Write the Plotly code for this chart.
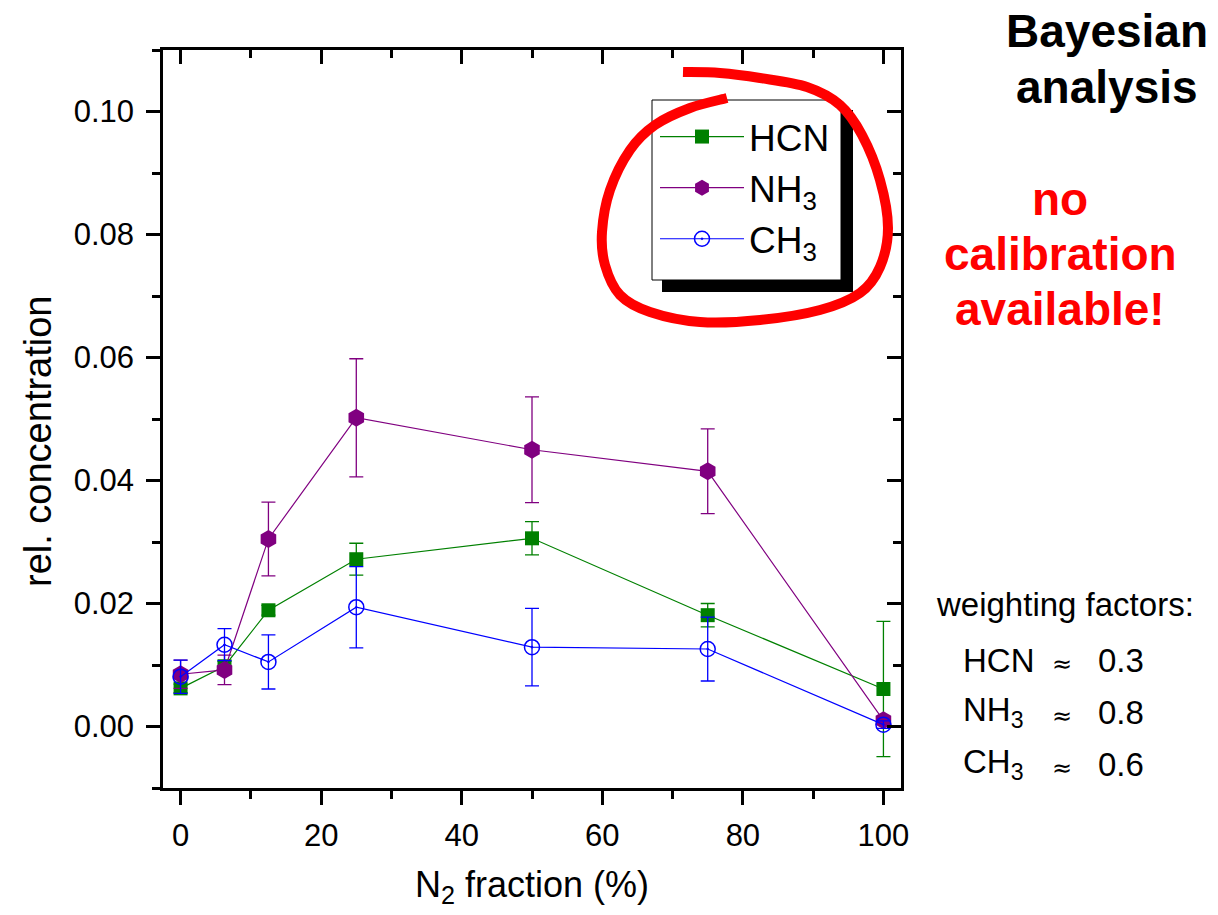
import plotly.graph_objects as go

# ---------------- data ----------------
n2_fraction = [0, 6.25, 12.5, 25, 50, 75, 100]

hcn = [0.0062, 0.0098, 0.0189, 0.0272, 0.0306, 0.0181, 0.0061]
hcn_err = [0.0007, 0.0008, 0.0008, 0.0026, 0.0027, 0.0019, 0.0110]

nh3 = [0.0085, 0.0092, 0.0305, 0.0502, 0.0450, 0.0415, 0.0010]
nh3_err = [0.0023, 0.0024, 0.0060, 0.0096, 0.0086, 0.0069, 0.0005]

ch3 = [0.0081, 0.0133, 0.0105, 0.0194, 0.0129, 0.0126, 0.0003]
ch3_err = [0.0027, 0.0026, 0.0044, 0.0066, 0.0063, 0.0052, 0.0006]

series_names = ["HCN", "NH<sub>3</sub>", "CH<sub>3</sub>"]
weight_labels = ["HCN", "NH<sub>3</sub>", "CH<sub>3</sub>"]
weight_values = ["0.3", "0.8", "0.6"]

x_ticks = [0, 20, 40, 60, 80, 100]
y_ticks = [0.00, 0.02, 0.04, 0.06, 0.08, 0.10]

# ---------------- layout geometry ----------------
W, H = 1218, 915
ML, MR, MT, MB = 163, 317, 50, 127
PW, PH = W - ML - MR, H - MT - MB
FONT = "Liberation Sans, Arial, Helvetica, sans-serif"

def px2x(px):
    return (px - ML) / PW

def py2y(py):
    return (H - MB - py) / PH

GREEN, PURPLE, BLUE = "#008000", "#800080", "#0000FF"


def series(name, y, err, color, symbol, size, mlw):
    return go.Scatter(
        x=n2_fraction, y=y, name=name, mode="lines+markers",
        line=dict(color=color, width=1.2),
        marker=dict(symbol=symbol, size=size, color=color,
                    line=dict(color=color, width=mlw)),
        error_y=dict(type="data", array=err, visible=True, color=color,
                     thickness=1.3, width=7),
    )


fig = go.Figure()
fig.add_trace(series(series_names[0], hcn, hcn_err, GREEN, "square", 14, 0))
fig.add_trace(series(series_names[1], nh3, nh3_err, PURPLE, "hexagon", 18, 0))
fig.add_trace(series(series_names[2], ch3, ch3_err, BLUE, "circle-open-dot", 15, 1.5))
# empty trace to carry the mirrored (inside-tick) axes
fig.add_trace(go.Scatter(x=[None], y=[None], xaxis="x2", yaxis="y2",
                         showlegend=False, hoverinfo="skip"))

XR = [-2.5, 102.5]
YR = [-0.01, 0.11]

axis_common = dict(
    showline=True, linecolor="black", linewidth=2.5, mirror=True,
    ticks="outside", ticklen=14, tickwidth=2.5, tickcolor="black",
    showgrid=False, zeroline=False,
    tickfont=dict(size=31, color="black", family=FONT),
)

fig.update_layout(
    width=W, height=H,
    margin=dict(l=ML, r=MR, t=MT, b=MB, autoexpand=False),
    paper_bgcolor="white", plot_bgcolor="white",
    font=dict(family=FONT, color="black"),
    xaxis=dict(
        **axis_common, range=XR, tickvals=x_ticks,
        minor=dict(dtick=10, tick0=0, ticklen=8, tickwidth=2.5, ticks="outside",
                   tickcolor="black", showgrid=False),
        ticklabelstandoff=4,
        title=dict(text="N<sub>2</sub> fraction (%)",
                   font=dict(size=36, color="black", family=FONT), standoff=20),
    ),
    yaxis=dict(
        **axis_common, range=YR, tickvals=y_ticks, tickformat=".2f",
        minor=dict(dtick=0.01, tick0=0, ticklen=8, tickwidth=2.5, ticks="outside",
                   tickcolor="black", showgrid=False),
        ticklabelstandoff=6,
    ),
    xaxis2=dict(
        overlaying="x", side="top", anchor="y2", range=XR, tickvals=x_ticks,
        ticks="inside", ticklen=14, tickwidth=2.5, tickcolor="black",
        minor=dict(dtick=10, tick0=0, ticklen=8, tickwidth=2.5, ticks="inside",
                   tickcolor="black", showgrid=False),
        showticklabels=False, showline=False, showgrid=False, zeroline=False,
    ),
    yaxis2=dict(
        overlaying="y", side="right", anchor="x2", range=YR, tickvals=y_ticks,
        ticks="inside", ticklen=14, tickwidth=2.5, tickcolor="black",
        minor=dict(dtick=0.01, tick0=0, ticklen=8, tickwidth=2.5, ticks="inside",
                   tickcolor="black", showgrid=False),
        showticklabels=False, showline=False, showgrid=False, zeroline=False,
    ),
    showlegend=True,
    legend=dict(
        x=px2x(655), y=py2y(106), xanchor="left", yanchor="top",
        bgcolor="rgba(0,0,0,0)", borderwidth=0,
        font=dict(size=37, color="black", family=FONT),
        itemwidth=84, tracegroupgap=0,
    ),
)

# ---------------- legend box with drop shadow ----------------
shapes = []
shapes.append(dict(type="rect", xref="paper", yref="paper",
                   x0=px2x(662), x1=px2x(853), y0=py2y(292), y1=py2y(110),
                   fillcolor="black", line=dict(width=0), layer="above"))
shapes.append(dict(type="rect", xref="paper", yref="paper",
                   x0=px2x(652), x1=px2x(841), y0=py2y(280), y1=py2y(100),
                   fillcolor="white", line=dict(color="black", width=1), layer="above"))

# ---------------- hand-drawn red circle ----------------
red_pts = [(683, 72), (720, 73), (760, 78), (807, 87), (840, 105), (862, 135),
           (880, 180), (888, 228), (880, 267), (860, 293), (820, 310), (760, 320),
           (700, 322), (650, 312), (620, 295), (605, 265), (602, 232), (610, 190),
           (630, 150), (655, 125), (690, 108), (727, 98)]
P = [(px2x(a), py2y(b)) for a, b in red_pts]
path = "M%.5f,%.5f" % P[0]
for i in range(len(P) - 1):
    p0 = P[i - 1] if i > 0 else P[i]
    p1, p2 = P[i], P[i + 1]
    p3 = P[i + 2] if i + 2 < len(P) else P[i + 1]
    c1 = (p1[0] + (p2[0] - p0[0]) / 6, p1[1] + (p2[1] - p0[1]) / 6)
    c2 = (p2[0] - (p3[0] - p1[0]) / 6, p2[1] - (p3[1] - p1[1]) / 6)
    path += " C%.5f,%.5f %.5f,%.5f %.5f,%.5f" % (c1 + c2 + p2)
shapes.append(dict(type="path", xref="paper", yref="paper", path=path,
                   line=dict(color="#FF0000", width=10), layer="above"))
fig.update_layout(shapes=shapes)

# ---------------- texts ----------------
ann = []

def txt(text, px, py, size, color="black", xanchor="center", family=FONT, angle=0):
    ann.append(dict(text=text, x=px2x(px), y=py2y(py), xref="paper", yref="paper",
                    xanchor=xanchor, yanchor="middle", showarrow=False,
                    textangle=angle,
                    font=dict(size=size, color=color, family=family)))

# y axis title
txt("rel. concentration", 38, 441, 38, angle=-90)

txt("<b>Bayesian</b>", 1107, 31, 46)
txt("<b>analysis</b>", 1107, 87, 46)
txt("<b>no</b>", 1060, 199, 46, color="#FF0000")
txt("<b>calibration</b>", 1060, 254, 46, color="#FF0000")
txt("<b>available!</b>", 1060, 309, 46, color="#FF0000")

txt("weighting factors:", 934, 604, 33, xanchor="left")
row_mid = [660, 712, 764]
approx_mid = [664, 716, 768]
for lab, val, ym, ya in zip(weight_labels, weight_values, row_mid, approx_mid):
    txt(lab, 961, ym, 33, xanchor="left")
    txt("\u2248", 1062, ya, 24, family="DejaVu Sans, Liberation Sans, sans-serif")
    txt(val, 1096, ym, 33, xanchor="left")

fig.update_layout(annotations=ann)

fig.write_html("out.html")
